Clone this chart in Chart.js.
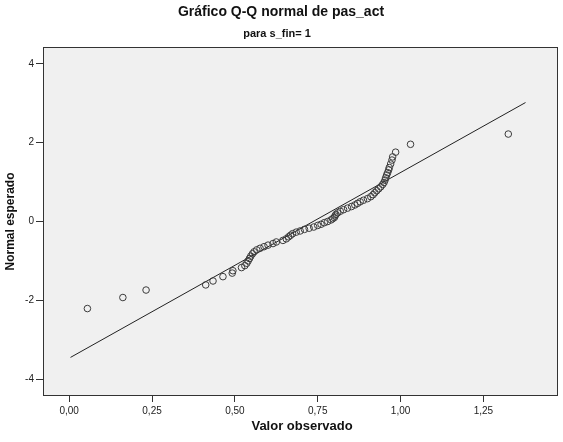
<!DOCTYPE html>
<html lang="es">
<head>
<meta charset="UTF-8">
<title>Gráfico Q-Q normal de pas_act</title>
<script src="https://cdn.jsdelivr.net/npm/chart.js@4.4.0/dist/chart.umd.min.js"></script>
<style>
  html, body { margin: 0; padding: 0; background: #fff; }
  #wrap { width: 563px; height: 442px; }
</style>
</head>
<body>
<div id="wrap"><canvas id="qq"></canvas></div>
<script>
// observed values of pas_act (s_fin = 1) and their expected normal scores
const obsX = [0.055, 0.162, 0.232, 0.412, 0.434, 0.464, 0.492, 0.494, 0.520, 0.530,
  0.536, 0.540, 0.544, 0.548, 0.553, 0.558, 0.566, 0.576, 0.588, 0.600,
  0.615, 0.625, 0.645, 0.655, 0.662, 0.668, 0.674, 0.685, 0.697, 0.710,
  0.724, 0.738, 0.750, 0.760, 0.770, 0.780, 0.790, 0.795, 0.800, 0.802,
  0.805, 0.810, 0.818, 0.828, 0.840, 0.852, 0.862, 0.870, 0.878, 0.888,
  0.900, 0.910, 0.917, 0.922, 0.928, 0.934, 0.940, 0.946, 0.950, 0.953,
  0.955, 0.958, 0.961, 0.964, 0.966, 0.970, 0.974, 0.976, 0.985, 1.030, 1.325];
const expY = [-2.21, -1.93, -1.74, -1.61, -1.51, -1.40, -1.31, -1.25, -1.17, -1.12,
  -1.06, -1.00, -0.94, -0.88, -0.82, -0.77, -0.72, -0.68, -0.64, -0.60,
  -0.56, -0.52, -0.48, -0.44, -0.39, -0.35, -0.31, -0.27, -0.24, -0.20,
  -0.17, -0.14, -0.10, -0.07, -0.03, 0.00, 0.04, 0.07, 0.10, 0.14,
  0.18, 0.22, 0.26, 0.30, 0.34, 0.38, 0.42, 0.46, 0.50, 0.54,
  0.58, 0.63, 0.68, 0.73, 0.78, 0.83, 0.88, 0.94, 0.99, 1.05,
  1.11, 1.18, 1.24, 1.31, 1.37, 1.46, 1.56, 1.64, 1.76, 1.96, 2.22];

// reference line endpoints
const lineX = [0.004, 1.377];
const lineY = [-3.45, 3.02];

const xTicks = [0, 0.25, 0.5, 0.75, 1.0, 1.25];
const yTicks = [-4, -2, 0, 2, 4];

const titleText = 'Gráfico Q-Q normal de pas_act';
const subtitleText = 'para s_fin= 1';
const xTitleText = 'Valor observado';
const yTitleText = 'Normal esperado';

const FONT = '"Liberation Sans", Arial, sans-serif';

const points = obsX.map((x, i) => ({ x: x, y: expY[i] }));
const refLine = lineX.map((x, i) => ({ x: x, y: lineY[i] }));

// grey plot background + frame, titles
const frame = {
  id: 'frame',
  beforeDatasetsDraw(chart) {
    const a = chart.chartArea, c = chart.ctx;
    c.save();
    c.fillStyle = '#f0f0f0';
    c.fillRect(a.left, a.top, a.right - a.left, a.bottom - a.top);
    c.restore();
  },
  afterDraw(chart) {
    const a = chart.chartArea, c = chart.ctx;
    c.save();
    c.strokeStyle = '#333';
    c.lineWidth = 1;
    c.strokeRect(a.left + 0.5, a.top + 0.5, a.right - a.left - 1, a.bottom - a.top - 1);
    c.fillStyle = '#111';
    c.textAlign = 'center';
    c.textBaseline = 'middle';
    c.font = 'bold 14px ' + FONT;
    c.fillText(titleText, 281, 12);
    c.font = 'bold 11px ' + FONT;
    c.fillText(subtitleText, 277, 34);
    c.font = 'bold 13px ' + FONT;
    c.fillText(xTitleText, 302, 426);
    c.restore();
  }
};

new Chart(document.getElementById('qq'), {
  type: 'scatter',
  data: {
    datasets: [
      {
        data: points,
        pointStyle: 'circle',
        pointRadius: 3.3,
        pointBorderWidth: 1,
        pointBorderColor: '#3c3c3c',
        pointBackgroundColor: 'rgba(0,0,0,0)',
        showLine: false
      },
      {
        type: 'line',
        data: refLine,
        borderColor: '#222',
        borderWidth: 1,
        pointRadius: 0,
        fill: false
      }
    ]
  },
  options: {
    responsive: true,
    maintainAspectRatio: false,
    animation: false,
    layout: { padding: { left: 0, right: 2, top: 47, bottom: 0 } },
    plugins: {
      legend: { display: false },
      tooltip: { enabled: false }
    },
    scales: {
      x: {
        type: 'linear',
        min: -0.079,
        max: 1.475,
        afterBuildTicks: s => { s.ticks = xTicks.map(v => ({ value: v })); },
        afterFit: s => { s.height = 46; },
        grid: { drawOnChartArea: false, tickLength: 6, color: '#333', tickWidth: 1 },
        border: { display: false },
        ticks: {
          padding: 3,
          color: '#222',
          font: { family: FONT, size: 10 },
          maxRotation: 0,
          callback: v => v.toFixed(2).replace('.', ',')
        }
      },
      y: {
        type: 'linear',
        min: -4.43,
        max: 4.43,
        afterBuildTicks: s => { s.ticks = yTicks.map(v => ({ value: v })); },
        afterFit: s => { s.width = 43; },
        grid: { drawOnChartArea: false, tickLength: 7, color: '#333', tickWidth: 1 },
        border: { display: false },
        title: {
          display: true,
          text: yTitleText,
          color: '#111',
          font: { family: FONT, size: 12, weight: 'bold' },
          padding: { top: 3, bottom: 0 }
        },
        ticks: {
          padding: 2,
          color: '#222',
          font: { family: FONT, size: 10 },
          callback: v => String(v)
        }
      }
    }
  },
  plugins: [frame]
});
</script>
</body>
</html>
